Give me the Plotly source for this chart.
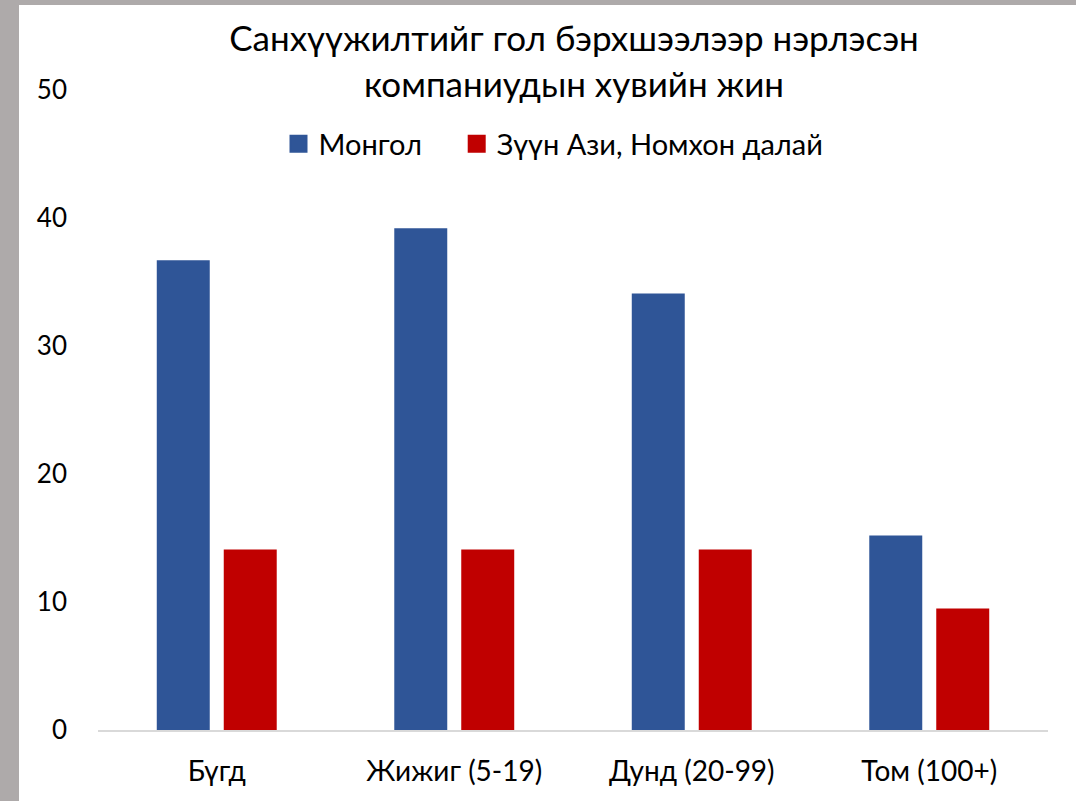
import plotly.graph_objects as go

categories = ["Бүгд", "Жижиг (5-19)", "Дунд (20-99)", "Том (100+)"]
mongol = [36.7, 39.2, 34.1, 15.2]
east_asia = [14.1, 14.1, 14.1, 9.5]
series_names = ["Монгол", "Зүүн Ази, Номхон далай"]
colors = ["#2F5597", "#C00000"]
title_text = "Санхүүжилтийг гол бэрхшээлээр нэрлэсэн<br>компаниудын хувийн жин"
y_ticks = [0, 10, 20, 30, 40, 50]

FONT = "Lato"
W, H = 1076, 801
L, R, T, B = 98, 28, 90, 71
pw = W - L - R
ph = H - T - B

fig = go.Figure()
for vals, name, col in [(mongol, series_names[0], colors[0]),
                        (east_asia, series_names[1], colors[1])]:
    fig.add_trace(go.Bar(x=categories, y=vals, name=name, showlegend=False,
                         marker=dict(color=col, line=dict(width=0))))
# legend entries with larger square swatches (padding after first entry)
legend_labels = [series_names[0] + "\u00a0" * 4, series_names[1]]
for name, col in zip(legend_labels, colors):
    fig.add_trace(go.Scatter(x=[None], y=[None], mode="markers", name=name,
                             marker=dict(symbol="square", size=16, color=col,
                                         line=dict(width=2, color=col))))

fig.update_layout(
    width=W, height=H,
    margin=dict(l=L, r=R, t=T, b=B, autoexpand=False),
    paper_bgcolor="white", plot_bgcolor="white",
    barmode="group", bargap=0.436, bargroupgap=0.209,
    font=dict(family=FONT, color="#000000", size=28),
    title=dict(text=title_text, x=(574 - L) / pw, xanchor="center",
               xref="paper", y=1 - 51 / H, yanchor="middle", yref="container",
               font=dict(family=FONT, size=35, color="#000000")),
    legend=dict(orientation="h", x=(553.5 - L) / pw, xanchor="center",
                y=(H - B - 144) / ph, yanchor="middle",
                font=dict(family=FONT, size=29, color="#000000"),
                bgcolor="rgba(0,0,0,0)", itemwidth=30, traceorder="normal"),
    xaxis=dict(showgrid=False, showline=True, linecolor="#D9D9D9", linewidth=2,
               ticks="", tickfont=dict(family=FONT, size=28), ticklabelstandoff=15),
    yaxis=dict(range=[0, 50], tickvals=y_ticks, showgrid=False, zeroline=False,
               showline=False, ticks="", tickfont=dict(family=FONT, size=26),
               ticklabelstandoff=30),
    showlegend=True,
)

# gray frame strips (left and top) outside the plot area
fig.add_shape(type="rect", xref="paper", yref="paper",
              x0=(0 - L) / pw - 0.01, x1=(19 - L) / pw, y0=-B / ph - 0.01, y1=(H - B) / ph + 0.01,
              fillcolor="#AEAAAA", line=dict(width=0), layer="below")
fig.add_shape(type="rect", xref="paper", yref="paper",
              x0=(0 - L) / pw - 0.01, x1=(W - L) / pw + 0.01, y0=(H - B - 5) / ph, y1=(H - B) / ph + 0.01,
              fillcolor="#AEAAAA", line=dict(width=0), layer="below")

fig.write_html("out.html", config={"displayModeBar": False},
               post_script="document.body.style.margin='0';")
